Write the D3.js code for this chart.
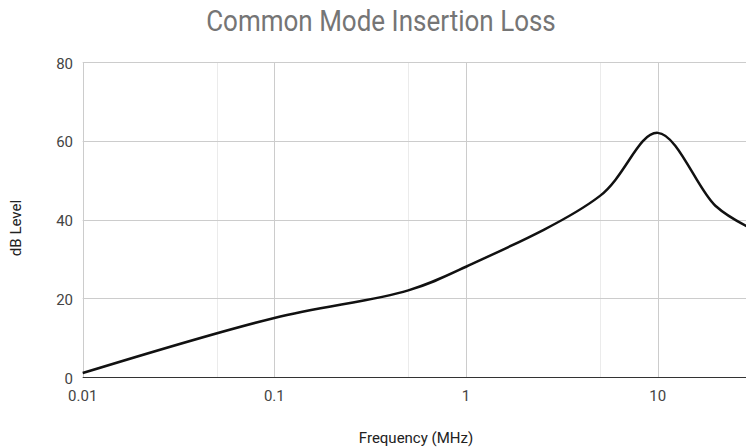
<!DOCTYPE html>
<html><head><meta charset="utf-8">
<script src="https://cdn.jsdelivr.net/npm/d3@7"></script>
<style>body{margin:0;background:#fff}svg{display:block}</style>
</head><body><div id="chart"></div>
<script>
const title = "Common Mode Insertion Loss";
const xTitle = "Frequency (MHz)";
const yTitle = "dB Level";
const frequencies = [0.01, 0.1, 0.5, 1, 5, 10, 20, 30];
const dbLevels = [1, 15, 22, 28, 46, 62, 43.5, 38];
const xMajorTicks = [0.01, 0.1, 1, 10];
const xMinorTicks = [0.05, 0.5, 5];
const yTicks = [0, 20, 40, 60, 80];

const W = 746, H = 447;
const svg = d3.select("#chart").append("svg").attr("width", W).attr("height", H)
  .style("font-family", "Roboto, Arial, sans-serif");

const x = d3.scaleLog().domain([0.01, 28.9]).range([82.7, 746]);
const y = d3.scaleLinear().domain([0, 80]).range([377, 62]);

svg.append("g").selectAll("line").data(xMinorTicks).join("line")
  .attr("x1", d => Math.round(x(d)) + 0.5).attr("x2", d => Math.round(x(d)) + 0.5)
  .attr("y1", y(80)).attr("y2", y(0)).attr("stroke", "#ebebeb").attr("stroke-width", 1);
svg.append("g").selectAll("line").data(xMajorTicks).join("line")
  .attr("x1", d => Math.round(x(d)) + 0.5).attr("x2", d => Math.round(x(d)) + 0.5)
  .attr("y1", y(80)).attr("y2", y(0)).attr("stroke", "#cccccc").attr("stroke-width", 1);
svg.append("g").selectAll("line").data(yTicks.filter(d => d > 0)).join("line")
  .attr("x1", x(0.01)).attr("x2", W)
  .attr("y1", d => Math.round(y(d)) + 0.5).attr("y2", d => Math.round(y(d)) + 0.5)
  .attr("stroke", "#cccccc").attr("stroke-width", 1);

svg.append("line").attr("x1", x(0.01)).attr("x2", W)
  .attr("y1", Math.round(y(0)) + 0.5).attr("y2", Math.round(y(0)) + 0.5)
  .attr("stroke", "#333").attr("stroke-width", 1);

svg.append("g").selectAll("text").data(yTicks).join("text")
  .attr("x", 73).attr("y", d => y(d) + 6.5)
  .attr("text-anchor", "end").attr("font-size", 15).attr("fill", "#444")
  .text(d => d);

svg.append("g").selectAll("text").data(xMajorTicks).join("text")
  .attr("x", d => x(d)).attr("y", 401)
  .attr("text-anchor", "middle").attr("font-size", 15).attr("fill", "#444")
  .text(d => d3.format("~g")(d));

svg.append("clipPath").attr("id", "clip").append("rect")
  .attr("x", 0).attr("y", 0).attr("width", W).attr("height", H);

const pts = frequencies.map((f, i) => [f, dbLevels[i]]);
const line = d3.line().x(d => x(d[0])).y(d => y(d[1])).curve(d3.curveCatmullRom.alpha(0.5));
svg.append("path").datum(pts).attr("d", line).attr("fill", "none")
  .attr("stroke", "#111").attr("stroke-width", 2.5).attr("stroke-linejoin", "round")
  .attr("clip-path", "url(#clip)");

svg.append("text").attr("transform", "translate(381,31) scale(1,1.1)").attr("text-anchor", "middle")
  .attr("font-size", 26).attr("fill", "#757575").text(title);
svg.append("text").attr("x", 416).attr("y", 443).attr("text-anchor", "middle")
  .attr("font-size", 15).attr("fill", "#222").text(xTitle);
svg.append("text").attr("transform", "translate(21,228) rotate(-90)").attr("text-anchor", "middle")
  .attr("font-size", 15).attr("fill", "#222").text(yTitle);
</script></body></html>
